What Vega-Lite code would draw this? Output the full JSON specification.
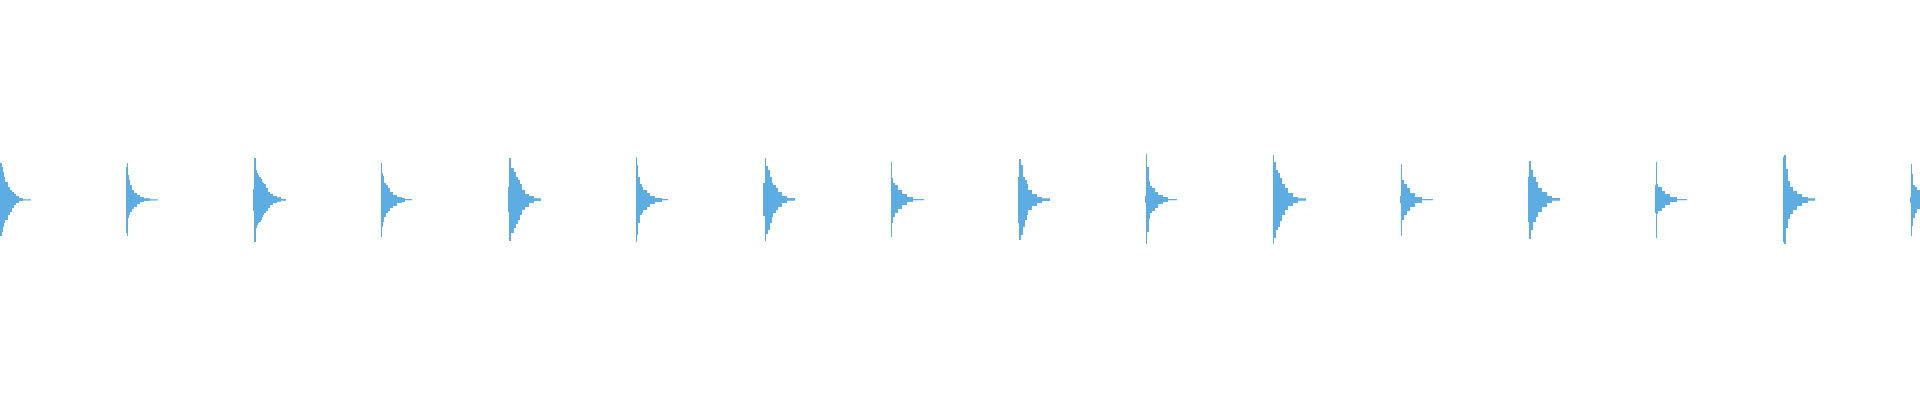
{
  "$schema": "https://vega.github.io/schema/vega-lite/v6.json",
  "width": 1920,
  "height": 400,
  "autosize": {"type": "fit", "contains": "padding"},
  "padding": 0,
  "config": {"view": {"stroke": null}},
  "data": {
    "values": [
      {"time": 0, "hi": 37, "lo": -36},
      {"time": 2, "hi": 33, "lo": -32},
      {"time": 3, "hi": 28, "lo": -27},
      {"time": 4, "hi": 23, "lo": -23},
      {"time": 5, "hi": 18, "lo": -20},
      {"time": 8, "hi": 13, "lo": -15},
      {"time": 10, "hi": 10, "lo": -12},
      {"time": 12, "hi": 8, "lo": -8},
      {"time": 14, "hi": 6, "lo": -5},
      {"time": 16, "hi": 4, "lo": -3},
      {"time": 19, "hi": 2, "lo": -1},
      {"time": 23, "hi": 0.7, "lo": -0.4},
      {"time": 31, "hi": 0, "lo": 0},

      {"time": 126, "hi": 33, "lo": -33},
      {"time": 127, "hi": 37, "lo": -36},
      {"time": 128, "hi": 25, "lo": -18},
      {"time": 129, "hi": 20, "lo": -15},
      {"time": 130, "hi": 15, "lo": -12},
      {"time": 132, "hi": 10, "lo": -9},
      {"time": 134, "hi": 7, "lo": -7},
      {"time": 137, "hi": 5, "lo": -4},
      {"time": 140, "hi": 3, "lo": -2},
      {"time": 144, "hi": 1.7, "lo": -1},
      {"time": 150, "hi": 0.7, "lo": -0.5},
      {"time": 158, "hi": 0, "lo": 0},

      {"time": 253, "hi": 11, "lo": -11},
      {"time": 254, "hi": 42, "lo": -42},
      {"time": 256, "hi": 30, "lo": -28},
      {"time": 257, "hi": 27, "lo": -25},
      {"time": 258, "hi": 25, "lo": -23},
      {"time": 259, "hi": 23, "lo": -22},
      {"time": 261, "hi": 21, "lo": -20},
      {"time": 262, "hi": 18, "lo": -17},
      {"time": 263, "hi": 17, "lo": -15},
      {"time": 264, "hi": 16, "lo": -13},
      {"time": 266, "hi": 12, "lo": -11},
      {"time": 268, "hi": 8, "lo": -8},
      {"time": 270, "hi": 6, "lo": -5},
      {"time": 273, "hi": 4, "lo": -3},
      {"time": 277, "hi": 2.7, "lo": -1.7},
      {"time": 281, "hi": 1, "lo": -0.7},
      {"time": 286, "hi": 0, "lo": 0},

      {"time": 381, "hi": 37, "lo": -37},
      {"time": 382, "hi": 27, "lo": -27},
      {"time": 383, "hi": 24, "lo": -22},
      {"time": 384, "hi": 17, "lo": -17},
      {"time": 386, "hi": 15, "lo": -13},
      {"time": 388, "hi": 12, "lo": -11},
      {"time": 390, "hi": 8, "lo": -8},
      {"time": 393, "hi": 5, "lo": -6},
      {"time": 397, "hi": 3, "lo": -3},
      {"time": 402, "hi": 2, "lo": -2},
      {"time": 405, "hi": 1, "lo": -0.3},
      {"time": 412, "hi": 0, "lo": 0},

      {"time": 508, "hi": 13, "lo": -12},
      {"time": 509, "hi": 42, "lo": -41},
      {"time": 511, "hi": 32, "lo": -33},
      {"time": 514, "hi": 28, "lo": -28},
      {"time": 516, "hi": 23, "lo": -24},
      {"time": 518, "hi": 20, "lo": -20},
      {"time": 520, "hi": 16, "lo": -15},
      {"time": 522, "hi": 10, "lo": -10},
      {"time": 525, "hi": 6, "lo": -7},
      {"time": 529, "hi": 4, "lo": -3},
      {"time": 534, "hi": 1.7, "lo": -1},
      {"time": 541, "hi": 0, "lo": 0},

      {"time": 636, "hi": 43, "lo": -42},
      {"time": 637, "hi": 35, "lo": -35},
      {"time": 638, "hi": 23, "lo": -23},
      {"time": 640, "hi": 16, "lo": -15},
      {"time": 642, "hi": 13, "lo": -13},
      {"time": 643, "hi": 10, "lo": -10},
      {"time": 647, "hi": 7, "lo": -7},
      {"time": 650, "hi": 4, "lo": -4},
      {"time": 655, "hi": 2, "lo": -2},
      {"time": 662, "hi": 1, "lo": -0.3},
      {"time": 668, "hi": 0, "lo": 0},

      {"time": 763, "hi": 17, "lo": -16},
      {"time": 765, "hi": 42, "lo": -41},
      {"time": 766, "hi": 34, "lo": -34},
      {"time": 768, "hi": 30, "lo": -30},
      {"time": 770, "hi": 23, "lo": -23},
      {"time": 772, "hi": 17, "lo": -17},
      {"time": 773, "hi": 15, "lo": -13},
      {"time": 776, "hi": 12, "lo": -10},
      {"time": 778, "hi": 8, "lo": -7},
      {"time": 782, "hi": 4, "lo": -3},
      {"time": 787, "hi": 2, "lo": -0.7},
      {"time": 795, "hi": 0, "lo": 0},

      {"time": 891, "hi": 38, "lo": -37},
      {"time": 892, "hi": 22, "lo": -23},
      {"time": 893, "hi": 17, "lo": -17},
      {"time": 895, "hi": 15, "lo": -13},
      {"time": 898, "hi": 10, "lo": -9},
      {"time": 902, "hi": 6, "lo": -5},
      {"time": 907, "hi": 3, "lo": -2},
      {"time": 913, "hi": 1, "lo": -0.3},
      {"time": 924, "hi": 0, "lo": 0},

      {"time": 1018, "hi": 23, "lo": -23},
      {"time": 1019, "hi": 41, "lo": -40},
      {"time": 1021, "hi": 35, "lo": -35},
      {"time": 1023, "hi": 23, "lo": -27},
      {"time": 1025, "hi": 20, "lo": -20},
      {"time": 1027, "hi": 16, "lo": -15},
      {"time": 1028, "hi": 10, "lo": -10},
      {"time": 1032, "hi": 6, "lo": -6},
      {"time": 1037, "hi": 3, "lo": -3},
      {"time": 1042, "hi": 1.7, "lo": -1},
      {"time": 1050, "hi": 0, "lo": 0},

      {"time": 1145, "hi": 4, "lo": -3},
      {"time": 1146, "hi": 46, "lo": -44},
      {"time": 1147, "hi": 33, "lo": -32},
      {"time": 1149, "hi": 19, "lo": -19},
      {"time": 1150, "hi": 14, "lo": -13},
      {"time": 1152, "hi": 12, "lo": -11},
      {"time": 1155, "hi": 8, "lo": -8},
      {"time": 1158, "hi": 5, "lo": -4},
      {"time": 1163, "hi": 3, "lo": -2},
      {"time": 1168, "hi": 1, "lo": -0.3},
      {"time": 1177, "hi": 0, "lo": 0},

      {"time": 1273, "hi": 45, "lo": -44},
      {"time": 1274, "hi": 38, "lo": -38},
      {"time": 1276, "hi": 30, "lo": -30},
      {"time": 1278, "hi": 27, "lo": -27},
      {"time": 1280, "hi": 22, "lo": -21},
      {"time": 1282, "hi": 16, "lo": -15},
      {"time": 1285, "hi": 12, "lo": -10},
      {"time": 1288, "hi": 7, "lo": -6},
      {"time": 1293, "hi": 3, "lo": -3},
      {"time": 1298, "hi": 1.7, "lo": -0.7},
      {"time": 1306, "hi": 0, "lo": 0},

      {"time": 1400, "hi": 4, "lo": -3},
      {"time": 1401, "hi": 36, "lo": -36},
      {"time": 1402, "hi": 20, "lo": -20},
      {"time": 1404, "hi": 16, "lo": -15},
      {"time": 1407, "hi": 12, "lo": -11},
      {"time": 1410, "hi": 7, "lo": -7},
      {"time": 1415, "hi": 3, "lo": -3},
      {"time": 1422, "hi": 1, "lo": -0.3},
      {"time": 1433, "hi": 0, "lo": 0},

      {"time": 1528, "hi": 23, "lo": -22},
      {"time": 1529, "hi": 39, "lo": -39},
      {"time": 1531, "hi": 30, "lo": -30},
      {"time": 1533, "hi": 23, "lo": -22},
      {"time": 1536, "hi": 18, "lo": -17},
      {"time": 1538, "hi": 12, "lo": -12},
      {"time": 1542, "hi": 8, "lo": -7},
      {"time": 1547, "hi": 4, "lo": -3},
      {"time": 1552, "hi": 2, "lo": -0.7},
      {"time": 1560, "hi": 0, "lo": 0},

      {"time": 1655, "hi": 15, "lo": -13},
      {"time": 1656, "hi": 38, "lo": -38},
      {"time": 1657, "hi": 16, "lo": -14},
      {"time": 1658, "hi": 13, "lo": -11},
      {"time": 1662, "hi": 9, "lo": -8},
      {"time": 1665, "hi": 6, "lo": -5},
      {"time": 1670, "hi": 3, "lo": -2},
      {"time": 1677, "hi": 1, "lo": -0.3},
      {"time": 1687, "hi": 0, "lo": 0},

      {"time": 1783, "hi": 43, "lo": -42},
      {"time": 1784, "hi": 45, "lo": -44},
      {"time": 1786, "hi": 31, "lo": -28},
      {"time": 1788, "hi": 19, "lo": -19},
      {"time": 1790, "hi": 13, "lo": -14},
      {"time": 1793, "hi": 9, "lo": -10},
      {"time": 1797, "hi": 6, "lo": -6},
      {"time": 1802, "hi": 3, "lo": -3},
      {"time": 1808, "hi": 1.7, "lo": -0.7},
      {"time": 1815, "hi": 0, "lo": 0},

      {"time": 1910, "hi": 3, "lo": -3},
      {"time": 1911, "hi": 36, "lo": -36},
      {"time": 1912, "hi": 26, "lo": -26},
      {"time": 1913, "hi": 15, "lo": -18},
      {"time": 1915, "hi": 13, "lo": -13},
      {"time": 1917, "hi": 10, "lo": -9},
      {"time": 1920, "hi": 8, "lo": -7},
      {"time": 1925, "hi": 0, "lo": 0}
    ]
  },
  "mark": {"type": "area", "interpolate": "step-after", "color": "#5dade2", "clip": true},
  "encoding": {
    "x": {
      "field": "time",
      "type": "quantitative",
      "scale": {"domain": [0, 1920], "nice": false, "zero": false},
      "axis": null
    },
    "y": {
      "field": "hi",
      "type": "quantitative",
      "scale": {"domain": [-200, 200], "nice": false},
      "axis": null
    },
    "y2": {"field": "lo"}
  }
}
